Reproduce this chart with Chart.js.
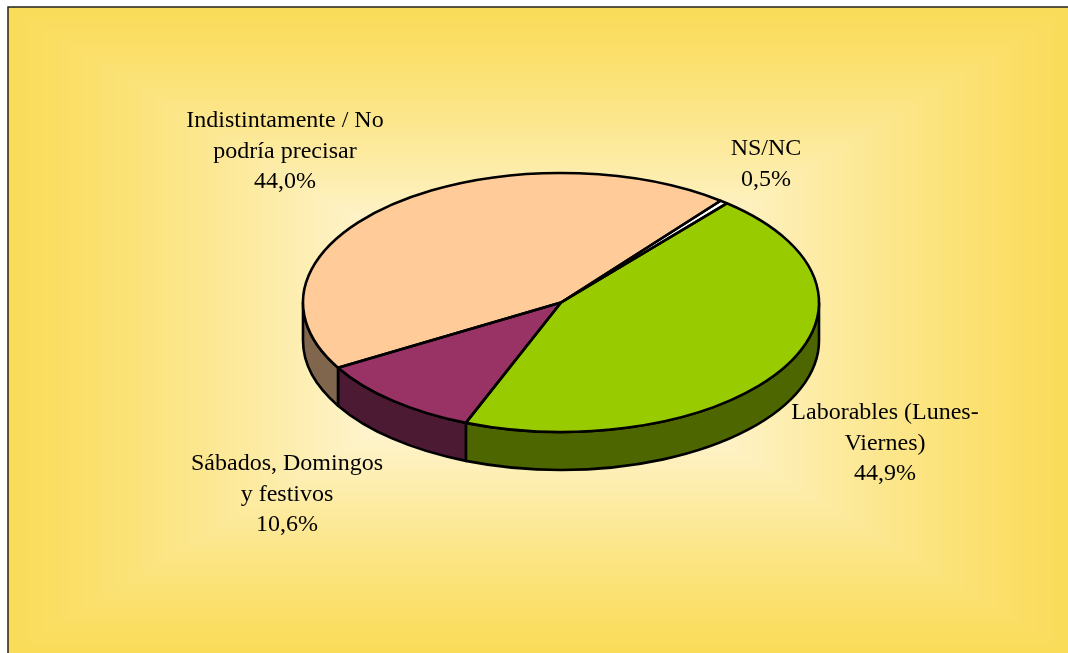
<!DOCTYPE html>
<html>
<head>
<meta charset="utf-8">
<style>
  html, body { margin: 0; padding: 0; background: #fff; overflow: hidden; }
  canvas { display: block; }
</style>
<script src="https://cdn.jsdelivr.net/npm/chart.js@4"></script>
</head>
<body>
<canvas id="pie" width="1068" height="653"></canvas>
<script>
const categories = ['Laborables (Lunes-Viernes)', 'Sábados, Domingos y festivos', 'Indistintamente / No podría precisar', 'NS/NC'];
const values = [44.9, 10.6, 44.0, 0.5];
const sliceColors = ['#99CC00', '#993366', '#FFCC99', '#FFFFFF'];
const sideColors = ['#4D6600', '#4D1A33', '#80664D', '#808080'];
const labelLines = [
  ['Laborables (Lunes-', 'Viernes)', '44,9%'],
  ['Sábados, Domingos', 'y festivos', '10,6%'],
  ['Indistintamente / No', 'podría precisar', '44,0%'],
  ['NS/NC', '0,5%']
];
const labelPos = [[885, 413], [287, 464], [285, 121], [766, 149]];

const squash = 129.5 / 258; // tilt of the pie
const depth = 38;

// yellow frame with the rectangular gradient towards the middle
const backdrop = {
  id: 'backdrop',
  beforeDraw(chart) {
    const ctx = chart.ctx;
    const L = 8, T = 7, R = 1072, B = 655;
    const mx = (L + R) / 2, my = (T + B) / 2;
    const edge = [250, 220, 90], mid = [255, 247, 220];
    const steps = 120;
    for (let i = 0; i < steps; i++) {
      const t = i / steps;
      const k = Math.pow(Math.min(1, t / 0.75), 1.2);
      ctx.fillStyle = 'rgb(' + edge.map((c, j) => Math.round(c + (mid[j] - c) * k)).join(',') + ')';
      const w = (R - L) / 2 * (1 - t), h = (B - T) / 2 * (1 - t);
      ctx.fillRect(mx - w, my - h, w * 2, h * 2);
    }
    ctx.strokeStyle = '#222';
    ctx.lineWidth = 1.5;
    ctx.strokeRect(L, T, R - L + 20, B - T + 20);
  }
};

// walls below the pie, then the flattening of the arcs chart.js draws
const tilt = {
  id: 'tilt',
  beforeDatasetsDraw(chart) {
    const ctx = chart.ctx;
    const arcs = chart.getDatasetMeta(0).data;
    ctx.save();
    ctx.lineWidth = 2.6;
    ctx.strokeStyle = '#000';
    ctx.lineJoin = 'round';
    arcs.forEach((arc, i) => {
      const a = Math.max(arc.startAngle, 0), b = Math.min(arc.endAngle, Math.PI);
      if (b <= a) return;
      const rx = arc.outerRadius, ry = rx * squash;
      ctx.beginPath();
      ctx.ellipse(arc.x, arc.y, rx, ry, 0, a, b);
      ctx.ellipse(arc.x, arc.y + depth, rx, ry, 0, b, a, true);
      ctx.closePath();
      ctx.fillStyle = sideColors[i];
      ctx.fill();
      ctx.stroke();
    });
    ctx.restore();
    const c = arcs[0];
    ctx.save();
    ctx.translate(c.x, c.y);
    ctx.scale(1, squash);
    ctx.translate(-c.x, -c.y);
  },
  afterDatasetsDraw(chart) {
    const ctx = chart.ctx;
    ctx.restore();
    ctx.save();
    ctx.lineWidth = 2.6;
    ctx.strokeStyle = '#000';
    ctx.lineJoin = 'round';
    chart.getDatasetMeta(0).data.forEach(arc => {
      const rx = arc.outerRadius, ry = rx * squash;
      ctx.beginPath();
      ctx.moveTo(arc.x, arc.y);
      ctx.ellipse(arc.x, arc.y, rx, ry, 0, arc.startAngle, arc.endAngle);
      ctx.closePath();
      ctx.stroke();
    });
    ctx.fillStyle = '#000';
    ctx.font = '24px "Liberation Serif"';
    ctx.textAlign = 'center';
    ctx.textBaseline = 'middle';
    labelLines.forEach((lines, i) => {
      lines.forEach((line, j) => ctx.fillText(line, labelPos[i][0], labelPos[i][1] + j * 30.5));
    });
    ctx.restore();
  }
};

new Chart(document.getElementById('pie').getContext('2d'), {
  type: 'pie',
  data: {
    labels: categories,
    datasets: [{
      data: values,
      backgroundColor: sliceColors,
      borderWidth: 0
    }]
  },
  options: {
    responsive: false,
    animation: false,
    rotation: 40,
    radius: 258,
    layout: { padding: { left: 54, right: 0, top: 0, bottom: 48 } },
    plugins: {
      legend: { display: false },
      tooltip: { enabled: false }
    }
  },
  plugins: [backdrop, tilt]
});
</script>
</body>
</html>
